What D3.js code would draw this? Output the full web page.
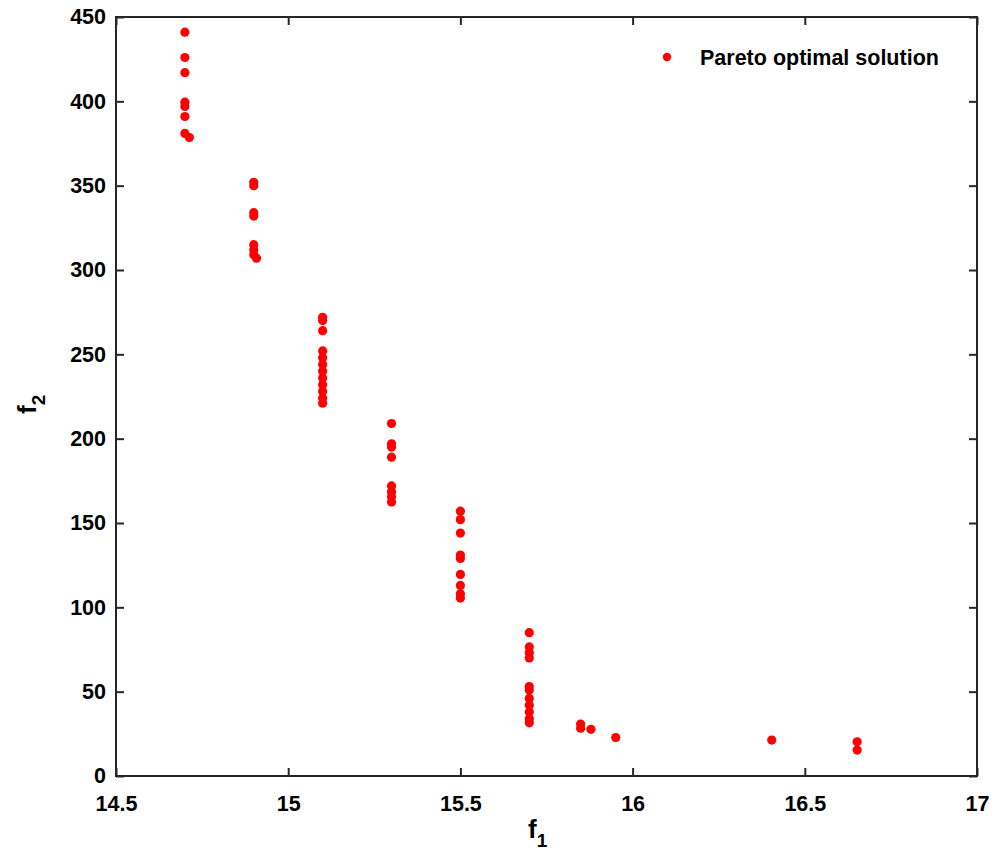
<!DOCTYPE html>
<html>
<head>
<meta charset="utf-8">
<script src="https://cdn.jsdelivr.net/npm/d3@7"></script>
<style>
body { margin: 0; background: #fff; }
svg { font-family: "Liberation Sans", Arial, sans-serif; }
.tick text { font-size: 21.5px; font-weight: bold; fill: #000; }
</style>
</head>
<body>
<svg width="1003" height="851"></svg>
<script>
// Pareto front
var f1 = [
	14.7, 14.7, 14.7, 14.7, 14.7, 14.7, 14.7, 14.713,
	14.9, 14.9, 14.9, 14.9, 14.9, 14.9, 14.9, 14.908,
	15.1, 15.1, 15.1, 15.1, 15.1, 15.1, 15.1, 15.1, 15.1, 15.1, 15.1, 15.1,
	15.3, 15.3, 15.3, 15.3, 15.3, 15.3, 15.3, 15.3,
	15.5, 15.5, 15.5, 15.5, 15.5, 15.5, 15.5, 15.5, 15.5,
	15.7, 15.7, 15.7, 15.7, 15.7, 15.7, 15.7, 15.7, 15.7, 15.7, 15.7,
	15.849, 15.849, 15.879, 15.951, 16.404, 16.652, 16.652
];
var f2 = [
	441, 426, 417, 399.5, 397, 391, 381, 378.5,
	352, 350, 334, 332, 315, 312, 309, 307,
	272, 270, 264, 252, 248, 244, 240, 236, 232, 228, 224, 221,
	209, 197, 195, 189, 172, 168.5, 165.5, 162.5,
	157, 152, 144, 131, 129, 119.5, 113, 108, 105.5,
	85, 76.5, 73, 70, 53, 51, 46, 42, 38, 34, 31.5,
	30.8, 28.3, 27.7, 22.8, 21.3, 20.3, 15.4
];
var xTicks = [14.5, 15, 15.5, 16, 16.5, 17];
var yTicks = [0, 50, 100, 150, 200, 250, 300, 350, 400, 450];
var seriesName = "Pareto optimal solution";

var margin = { left: 116, top: 17, right: 26, bottom: 75 };
var svg = d3.select("svg");
var width = 1003 - margin.left - margin.right;
var height = 851 - margin.top - margin.bottom;
var g = svg.append("g").attr("transform", "translate(" + margin.left + "," + margin.top + ")");

var x = d3.scaleLinear().domain([14.5, 17]).range([0, width]);
var y = d3.scaleLinear().domain([0, 450]).range([height, 0]);

function styleAxis(sel, hideText) {
	sel.select(".domain").remove();
	sel.selectAll(".tick line").attr("stroke", "#262626").attr("stroke-width", 2);
	if (hideText) sel.selectAll(".tick text").remove();
}

g.append("g").attr("transform", "translate(0," + height + ")")
	.call(d3.axisBottom(x).tickValues(xTicks).tickFormat(d3.format("")).tickSizeInner(-8).tickPadding(20))
	.call(styleAxis, false);
g.append("g")
	.call(d3.axisTop(x).tickValues(xTicks).tickSizeInner(-8))
	.call(styleAxis, true);
g.append("g")
	.call(d3.axisLeft(y).tickValues(yTicks).tickSizeInner(-8).tickPadding(10))
	.call(styleAxis, false);
g.append("g").attr("transform", "translate(" + width + ",0)")
	.call(d3.axisRight(y).tickValues(yTicks).tickSizeInner(-8))
	.call(styleAxis, true);

g.append("rect").attr("width", width).attr("height", height)
	.attr("fill", "none").attr("stroke", "#262626").attr("stroke-width", 2);

g.append("g").selectAll("circle").data(f1).enter().append("circle")
	.attr("cx", function(d) { return x(d); })
	.attr("cy", function(d, i) { return y(f2[i]); })
	.attr("r", 4.6)
	.attr("fill", "#ff0000");

// legend
var legend = g.append("g").attr("transform", "translate(" + (width - 427) + ",40)");
legend.append("circle").attr("cx", 117).attr("cy", 0).attr("r", 4.2).attr("fill", "#ff0000");
legend.append("text").attr("x", 150).attr("y", 8).attr("font-size", 21.5)
	.attr("font-weight", "bold").text(seriesName);

// axis labels
var xl = svg.append("text").attr("x", 528).attr("y", 838).attr("font-size", 26).attr("font-weight", "bold");
xl.append("tspan").text("f");
xl.append("tspan").attr("dy", 9).attr("font-size", 19).text("1");
var yl = svg.append("text").attr("transform", "translate(36,414) rotate(-90)")
	.attr("font-size", 26).attr("font-weight", "bold");
yl.append("tspan").text("f");
yl.append("tspan").attr("dy", 9).attr("font-size", 19).text("2");
</script>
</body>
</html>
